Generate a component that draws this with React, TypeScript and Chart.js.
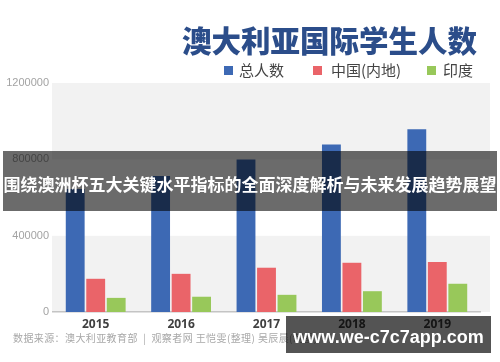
import React, { useEffect, useRef } from "react";
import { Chart, registerables } from "chart.js";

Chart.register(...registerables);

const years = ["2015", "2016", "2017", "2018", "2019"];
const totalStudents = [645000, 713000, 799000, 878000, 958000];
const chinaStudents = [174000, 200000, 232000, 258000, 262000];
const indiaStudents = [74000, 80000, 90000, 109000, 148000];
const seriesNames = ["总人数", "中国(内地)", "印度"];
const seriesColors = ["#3d69b4", "#ea6469", "#98c85a"];
const yTicks = [0, 400000, 800000, 1200000];

const titleText = "澳大利亚国际学生人数";
const overlayText = "围绕澳洲杯五大关键水平指标的全面深度解析与未来发展趋势展望";
const sourceText = "数据来源：澳大利亚教育部  |  观察者网 王恺雯(整理) 吴辰晨(制图)";
const watermarkText = "www.we-c7c7app.com";

const bandPlugin = {
  id: "bands",
  beforeDraw(chart: any) {
    const { ctx, chartArea, scales } = chart;
    const y = scales.y;
    ctx.save();
    const left = chartArea.left - 1;
    const right = chartArea.right + 10;
    const bands = [
      [yTicks[0], yTicks[1], "#f2f2f2"],
      [yTicks[1], yTicks[2], "#ffffff"],
      [yTicks[2], yTicks[3], "#f2f2f2"],
    ];
    for (const [a, b, c] of bands as any) {
      const ya = y.getPixelForValue(a);
      const yb = y.getPixelForValue(b);
      ctx.fillStyle = c;
      ctx.fillRect(left, yb, right - left, ya - yb);
    }
    ctx.restore();
  },
};

export default function App() {
  const ref = useRef<HTMLCanvasElement>(null);

  useEffect(() => {
    document.body.style.margin = "0";
    const chart = new Chart(ref.current as HTMLCanvasElement, {
      type: "bar",
      data: {
        labels: years,
        datasets: [
          { label: seriesNames[0], data: totalStudents, backgroundColor: seriesColors[0] },
          { label: seriesNames[1], data: chinaStudents, backgroundColor: seriesColors[1] },
          { label: seriesNames[2], data: indiaStudents, backgroundColor: seriesColors[2] },
        ],
      },
      options: {
        animation: false,
        responsive: false,
        maintainAspectRatio: false,
        layout: { padding: { top: 83, right: 20, bottom: 0, left: 0 } },
        datasets: { bar: { categoryPercentage: 0.72, barPercentage: 0.92 } },
        plugins: {
          legend: { display: false },
          title: { display: false },
          tooltip: { enabled: false },
        },
        scales: {
          x: {
            grid: { display: false, drawTicks: false },
            border: { display: true, color: "#c4c4c4", width: 1.5 },
            ticks: {
              color: "#404040",
              font: { family: "'Open Sans', Arial, sans-serif", size: 12, weight: "bold" },
              padding: 5,
            },
            afterFit: (s: any) => {
              s.height = 50;
            },
          },
          y: {
            min: 0,
            max: 1200000,
            grid: { display: false, drawTicks: false },
            border: { display: false },
            ticks: {
              stepSize: 400000,
              color: "#a3a3a3",
              font: { family: "Arial, 'Liberation Sans', sans-serif", size: 11 },
              padding: 4,
              callback: (v: any) => String(v),
            },
            afterFit: (s: any) => {
              s.width = 53;
            },
          },
        },
      },
      plugins: [bandPlugin],
    } as any);
    return () => chart.destroy();
  }, []);

  const legendItems = [
    { sq: 224, tx: 239, name: seriesNames[0], color: seriesColors[0] },
    { sq: 313, tx: 331, name: seriesNames[1], color: seriesColors[1] },
    { sq: 427, tx: 443, name: seriesNames[2], color: seriesColors[2] },
  ];

  return (
    <div
      style={{
        position: "fixed",
        left: 0,
        top: 0,
        width: 500,
        height: 362,
        background: "#ffffff",
        overflow: "hidden",
        fontFamily: "'Noto Sans CJK SC', 'Noto Sans', sans-serif",
      }}
    >
      <canvas ref={ref} width={500} height={362} style={{ position: "absolute", left: 0, top: 0 }} />
      <div
        style={{
          position: "absolute",
          right: 23,
          top: 21,
          height: 36,
          lineHeight: "36px",
          fontSize: 29.5,
          fontWeight: 900,
          color: "#2b4d8a",
          whiteSpace: "nowrap",
        }}
      >
        {titleText}
      </div>
      {legendItems.map((it) => (
        <React.Fragment key={it.name}>
          <div
            style={{
              position: "absolute",
              left: it.sq,
              top: 66,
              width: 9,
              height: 9,
              background: it.color,
            }}
          />
          <div
            style={{
              position: "absolute",
              left: it.tx,
              top: 60,
              height: 20,
              lineHeight: "20px",
              fontSize: 15,
              color: "#444444",
              whiteSpace: "nowrap",
            }}
          >
            {it.name}
          </div>
        </React.Fragment>
      ))}
      <div
        style={{
          position: "absolute",
          left: 13,
          top: 331,
          height: 14,
          lineHeight: "14px",
          fontSize: 10,
          letterSpacing: 0.4,
          color: "#a8a8a8",
          whiteSpace: "pre",
        }}
      >
        {sourceText}
      </div>
      <div
        style={{
          position: "absolute",
          left: 3,
          top: 151,
          width: 494,
          height: 60,
          background: "rgba(0,0,0,0.58)",
        }}
      />
      <div
        style={{
          position: "absolute",
          left: 2,
          top: 172,
          width: 496,
          height: 24,
          lineHeight: "24px",
          fontSize: 17,
          fontWeight: 700,
          color: "#ffffff",
          textAlign: "center",
          whiteSpace: "nowrap",
        }}
      >
        {overlayText}
      </div>
      <div
        style={{
          position: "absolute",
          left: 286,
          top: 316,
          width: 205,
          height: 37,
          background: "rgba(0,0,0,0.67)",
        }}
      />
      <div
        style={{
          position: "absolute",
          left: 286,
          top: 324,
          width: 205,
          height: 26,
          lineHeight: "26px",
          fontSize: 18,
          fontWeight: 700,
          color: "#ffffff",
          textAlign: "center",
          fontFamily: "Arial, 'Liberation Sans', sans-serif",
          whiteSpace: "nowrap",
        }}
      >
        {watermarkText}
      </div>
    </div>
  );
}
